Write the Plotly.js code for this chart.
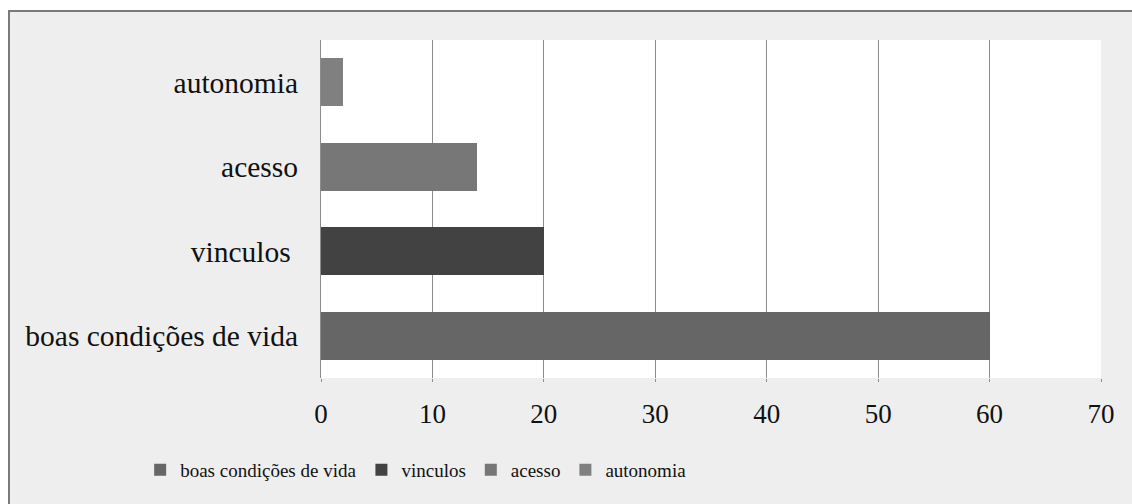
<!DOCTYPE html>
<html>
<head>
<meta charset="utf-8">
<script src="https://cdn.plot.ly/plotly-3.0.1.min.js"></script>
<style>
  html, body { margin: 0; padding: 0; background: #ffffff; width: 1132px; height: 504px; overflow: hidden; }
  #frame { position: absolute; left: 8px; top: 10px; width: 1140px; height: 510px;
           border-left: 2px solid #7a7a7a; border-top: 2px solid #7a7a7a; background: #eeeeee; overflow: hidden; }
  #chart { position: absolute; left: 0; top: 0; width: 1130px; height: 492px; }
</style>
</head>
<body>
<div id="frame"><div id="chart"></div></div>
<script>
const categories = ["boas condições de vida", "vinculos\u00a0", "acesso", "autonomia"];
const seriesNames = ["boas condições de vida", "vinculos", "acesso", "autonomia"];
const values = [60, 20, 14, 2];
const colors = ["#666666", "#424242", "#777777", "#808080"];
const xTicks = [0, 10, 20, 30, 40, 50, 60, 70];

const SERIF = "Liberation Serif";

const traces = categories.map((c, i) => ({
  type: "bar",
  orientation: "h",
  name: seriesNames[i],
  y: [c],
  x: [values[i]],
  marker: { color: colors[i], line: { width: 0 } },
  hoverinfo: "x+y"
}));

const layout = {
  width: 1130,
  height: 492,
  margin: { l: 311, r: 39, t: 28, b: 126 },
  paper_bgcolor: "#eeeeee",
  plot_bgcolor: "#ffffff",
  barmode: "stack",
  bargap: 0.43,
  font: { family: SERIF, color: "#111111" },
  xaxis: {
    range: [0, 70],
    tickvals: xTicks,
    ticktext: xTicks.map(String),
    showgrid: true,
    gridcolor: "#8c8c8c",
    gridwidth: 1,
    zeroline: false,
    showline: false,
    ticks: "outside",
    ticklen: 3,
    tickcolor: "#8c8c8c",
    ticklabelstandoff: 9,
    tickfont: { size: 27, family: SERIF, color: "#111111" },
    fixedrange: true
  },
  yaxis: {
    type: "category",
    categoryorder: "array",
    categoryarray: categories,
    showgrid: false,
    zeroline: false,
    showline: true,
    linecolor: "#8c8c8c",
    linewidth: 1,
    ticks: "",
    ticklabelstandoff: 16,
    tickfont: { size: 29.5, family: SERIF, color: "#111111" },
    fixedrange: true
  },
  showlegend: true,
  legend: {
    orientation: "h",
    x: 0.122,
    xanchor: "center",
    y: -0.272,
    yanchor: "middle",
    bgcolor: "rgba(0,0,0,0)",
    font: { size: 19, family: SERIF, color: "#111111" },
    itemwidth: 30,
    traceorder: "normal"
  }
};

Plotly.newPlot("chart", traces, layout, { displayModeBar: false, staticPlot: true });
</script>
</body>
</html>
